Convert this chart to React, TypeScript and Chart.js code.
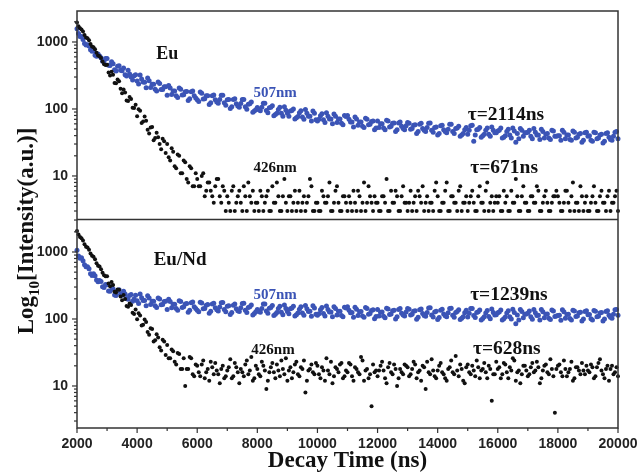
import { useEffect, useRef } from 'react';
import { Chart, registerables } from 'chart.js';

Chart.register(...registerables);

// Decay time (ns), first sampling grid
const TIME = [
  2000, 2100, 2200, 2300, 2400, 2500, 2600, 2700, 2800, 2900,
  3000, 3100, 3200, 3300, 3400, 3500, 3600, 3700, 3800, 3900,
  4000, 4100, 4200, 4300, 4400, 4500, 4600, 4700, 4800, 4900,
  5000, 5100, 5200, 5300, 5400, 5500, 5600, 5700, 5800, 5900,
  6000, 6100, 6200, 6300, 6400, 6500, 6600, 6700, 6800, 6900,
  7000, 7100, 7200, 7300, 7400, 7500, 7600, 7700, 7800, 7900,
  8000, 8100, 8200, 8300, 8400, 8500, 8600, 8700, 8800, 8900,
  9000, 9100, 9200, 9300, 9400, 9500, 9600, 9700, 9800, 9900,
  10000, 10100, 10200, 10300, 10400, 10500, 10600, 10700, 10800, 10900,
  11000, 11100, 11200, 11300, 11400, 11500, 11600, 11700, 11800, 11900,
  12000, 12100, 12200, 12300, 12400, 12500, 12600, 12700, 12800, 12900,
  13000, 13100, 13200, 13300, 13400, 13500, 13600, 13700, 13800, 13900,
  14000, 14100, 14200, 14300, 14400, 14500, 14600, 14700, 14800, 14900,
  15000, 15100, 15200, 15300, 15400, 15500, 15600, 15700, 15800, 15900,
  16000, 16100, 16200, 16300, 16400, 16500, 16600, 16700, 16800, 16900,
  17000, 17100, 17200, 17300, 17400, 17500, 17600, 17700, 17800, 17900,
  18000, 18100, 18200, 18300, 18400, 18500, 18600, 18700, 18800, 18900,
  19000, 19100, 19200, 19300, 19400, 19500, 19600, 19700, 19800, 19900,
  20000,
];

// Decay time (ns), second (interleaved) sampling grid
const TIME_B = [
  2050, 2150, 2250, 2350, 2450, 2550, 2650, 2750, 2850, 2950,
  3050, 3150, 3250, 3350, 3450, 3550, 3650, 3750, 3850, 3950,
  4050, 4150, 4250, 4350, 4450, 4550, 4650, 4750, 4850, 4950,
  5050, 5150, 5250, 5350, 5450, 5550, 5650, 5750, 5850, 5950,
  6050, 6150, 6250, 6350, 6450, 6550, 6650, 6750, 6850, 6950,
  7050, 7150, 7250, 7350, 7450, 7550, 7650, 7750, 7850, 7950,
  8050, 8150, 8250, 8350, 8450, 8550, 8650, 8750, 8850, 8950,
  9050, 9150, 9250, 9350, 9450, 9550, 9650, 9750, 9850, 9950,
  10050, 10150, 10250, 10350, 10450, 10550, 10650, 10750, 10850, 10950,
  11050, 11150, 11250, 11350, 11450, 11550, 11650, 11750, 11850, 11950,
  12050, 12150, 12250, 12350, 12450, 12550, 12650, 12750, 12850, 12950,
  13050, 13150, 13250, 13350, 13450, 13550, 13650, 13750, 13850, 13950,
  14050, 14150, 14250, 14350, 14450, 14550, 14650, 14750, 14850, 14950,
  15050, 15150, 15250, 15350, 15450, 15550, 15650, 15750, 15850, 15950,
  16050, 16150, 16250, 16350, 16450, 16550, 16650, 16750, 16850, 16950,
  17050, 17150, 17250, 17350, 17450, 17550, 17650, 17750, 17850, 17950,
  18050, 18150, 18250, 18350, 18450, 18550, 18650, 18750, 18850, 18950,
  19050, 19150, 19250, 19350, 19450, 19550, 19650, 19750, 19850, 19950,
];

// Eu, 507 nm (top panel, blue)
const EU_507 = [
  1570, 1210, 1091, 902, 872, 725, 635, 663, 580, 507,
  566, 447, 473, 370, 440, 371, 323, 379, 299, 312,
  262, 322, 252, 208, 265, 234, 197, 252, 196, 214,
  160, 205, 185, 158, 205, 162, 181, 134, 181, 157,
  137, 179, 141, 157, 117, 158, 137, 122, 160, 124,
  137, 102, 138, 120, 106, 139, 108, 118, 127, 93,
  105, 94, 122, 95, 104, 112, 83, 98, 86, 108,
  86, 93, 100, 74, 88, 76, 98, 78, 66, 86,
  66, 79, 69, 88, 71, 60, 78, 71, 61, 80,
  80, 64, 54, 71, 64, 55, 73, 58, 65, 49,
  66, 60, 52, 68, 54, 61, 46, 62, 55, 49,
  63, 50, 57, 43, 59, 51, 46, 61, 48, 53,
  41, 56, 49, 44, 59, 46, 51, 55, 41, 49,
  42, 56, 33, 49, 53, 40, 48, 42, 54, 44,
  47, 52, 38, 46, 41, 52, 32, 36, 48, 44,
  45, 39, 51, 41, 35, 46, 42, 37, 48, 39,
  40, 34, 45, 41, 35, 47, 37, 42, 32, 44,
  39, 34, 45, 36, 41, 31, 43, 38, 34, 45,
  36,
];
const EU_507_B = [
  1339, 1206, 950, 906, 769, 740, 611, 618, 517, 567,
  451, 508, 385, 433, 379, 409, 311, 332, 270, 324,
  236, 281, 250, 289, 210, 233, 185, 241, 196, 214,
  224, 164, 185, 149, 197, 163, 182, 142, 186, 146,
  129, 172, 142, 158, 124, 161, 127, 138, 160, 114,
  138, 108, 142, 111, 121, 139, 99, 120, 89, 97,
  98, 106, 122, 88, 106, 79, 86, 106, 78, 96,
  78, 95, 71, 77, 94, 70, 86, 78, 93, 69,
  70, 85, 63, 78, 71, 84, 63, 71, 58, 77,
  70, 64, 76, 57, 64, 53, 70, 59, 66, 52,
  53, 60, 49, 66, 55, 62, 49, 64, 51, 56,
  61, 51, 58, 46, 61, 48, 53, 62, 45, 54,
  43, 57, 46, 50, 59, 43, 52, 39, 43, 53,
  48, 57, 41, 50, 38, 42, 52, 39, 48, 44,
  48, 37, 40, 50, 37, 47, 43, 51, 39, 44,
  48, 36, 45, 41, 50, 37, 43, 35, 47, 39,
  40, 48, 36, 41, 34, 45, 38, 43, 34, 45,
  40, 33, 44, 37, 42, 33, 44, 35, 39, 46,
];

// Eu, 426 nm (top panel, black)
const EU_426 = [
  1950, 1600, 1430, 1170, 1060, 860, 780, 630, 575, 465,
  459, 315, 324, 242, 259, 172, 176, 132, 141, 103,
  78, 94, 65, 67, 43, 54, 37, 38, 25, 33,
  30, 17, 23, 13, 20, 11, 16, 8, 13, 7,
  9, 7, 11, 6, 8, 5, 7, 9, 4, 6,
  5, 3, 7, 4, 6, 3, 5, 8, 4, 3,
  4, 6, 3, 5, 3, 7, 4, 5, 3, 9,
  3, 5, 4, 3, 6, 4, 3, 5, 7, 3,
  4, 3, 5, 4, 8, 3, 6, 4, 3, 5,
  3, 4, 6, 3, 5, 4, 3, 7, 4, 5,
  4, 3, 5, 9, 3, 4, 6, 3, 5, 4,
  3, 6, 4, 3, 5, 7, 4, 3, 4, 6,
  5, 3, 4, 8, 3, 5, 4, 6, 3, 4,
  3, 5, 4, 3, 7, 4, 6, 3, 5, 4,
  4, 3, 6, 5, 3, 4, 9, 3, 5, 4,
  3, 5, 4, 7, 3, 4, 6, 3, 4, 5,
  5, 3, 4, 6, 3, 8, 4, 3, 5, 4,
  3, 4, 7, 3, 5, 4, 3, 6, 4, 5,
  3,
];
const EU_426_B = [
  1720, 1530, 1270, 1140, 930, 835, 690, 615, 510, 455,
  350, 358, 244, 276, 200, 196, 134, 151, 104, 116,
  99, 62, 77, 49, 53, 34, 44, 30, 36, 22,
  19, 26, 14, 21, 11, 17, 9, 14, 7, 11,
  7, 10, 5, 8, 6, 4, 9, 5, 7, 3,
  4, 6, 3, 5, 4, 7, 3, 5, 6, 4,
  3, 5, 4, 6, 3, 4, 8, 3, 5, 4,
  5, 3, 6, 4, 3, 5, 4, 9, 3, 4,
  3, 6, 4, 5, 3, 4, 7, 3, 5, 4,
  5, 3, 4, 6, 3, 8, 4, 5, 3, 4,
  3, 5, 4, 3, 6, 4, 5, 3, 7, 4,
  4, 3, 5, 6, 4, 3, 5, 4, 3, 8,
  3, 4, 6, 3, 5, 4, 3, 7, 4, 5,
  4, 6, 3, 5, 4, 3, 8, 4, 3, 5,
  5, 3, 4, 3, 6, 4, 5, 3, 7, 4,
  3, 5, 4, 6, 3, 5, 4, 3, 5, 6,
  4, 3, 6, 4, 5, 3, 4, 7, 3, 5,
  3, 5, 4, 3, 6, 4, 5, 3, 4, 6,
];

// Eu/Nd, 507 nm (bottom panel, blue)
const ND_507 = [
  1060, 808, 742, 601, 562, 447, 441, 360, 364, 296,
  325, 260, 281, 224, 274, 227, 237, 197, 233, 198,
  187, 236, 188, 158, 205, 184, 158, 206, 163, 182,
  139, 183, 166, 143, 187, 149, 168, 126, 174, 152,
  135, 178, 142, 161, 122, 167, 147, 132, 175, 139,
  155, 117, 161, 142, 129, 171, 135, 149, 162, 121,
  139, 126, 167, 132, 145, 159, 118, 143, 126, 162,
  129, 142, 155, 116, 140, 123, 159, 129, 110, 146,
  114, 137, 121, 156, 127, 108, 143, 131, 113, 150,
  152, 124, 106, 140, 128, 111, 148, 118, 134, 101,
  138, 126, 110, 145, 117, 133, 100, 139, 122, 111,
  144, 115, 131, 99, 137, 121, 110, 146, 115, 127,
  98, 135, 119, 108, 144, 114, 125, 137, 103, 124,
  107, 143, 113, 125, 136, 102, 123, 109, 141, 115,
  124, 136, 101, 123, 108, 140, 85, 97, 129, 118,
  122, 108, 139, 113, 97, 128, 118, 103, 136, 109,
  113, 96, 128, 117, 102, 135, 109, 124, 93, 129,
  116, 101, 134, 108, 123, 93, 129, 114, 103, 137,
  114,
];
const ND_507_B = [
  874, 819, 645, 601, 473, 472, 381, 375, 304, 326,
  262, 302, 229, 265, 235, 260, 202, 224, 184, 226,
  170, 208, 188, 222, 164, 184, 149, 198, 164, 184,
  197, 147, 166, 135, 182, 152, 171, 135, 179, 143,
  128, 173, 144, 164, 130, 172, 137, 151, 177, 128,
  158, 125, 167, 133, 147, 172, 125, 152, 115, 128,
  130, 144, 168, 122, 149, 113, 125, 155, 116, 144,
  120, 146, 111, 123, 152, 114, 142, 131, 157, 118,
  120, 148, 111, 138, 127, 152, 115, 131, 108, 146,
  135, 125, 150, 113, 129, 106, 144, 121, 137, 109,
  111, 127, 104, 141, 119, 135, 108, 143, 115, 127,
  140, 118, 133, 106, 141, 113, 125, 147, 107, 131,
  105, 140, 112, 124, 145, 106, 129, 98, 108, 135,
  122, 144, 105, 128, 97, 108, 134, 101, 125, 116,
  127, 97, 107, 133, 100, 125, 115, 138, 104, 119,
  132, 99, 124, 114, 138, 104, 119, 98, 132, 111,
  114, 137, 103, 118, 97, 132, 111, 126, 100, 133,
  117, 97, 131, 110, 125, 100, 133, 106, 118, 138,
];

// Eu/Nd, 426 nm (bottom panel, black)
const ND_426 = [
  2050, 1680, 1480, 1200, 1080, 880, 780, 625, 555, 450,
  435, 309, 321, 249, 274, 191, 198, 152, 162, 119,
  99, 113, 82, 90, 58, 71, 48, 53, 34, 46,
  41, 26, 33, 21, 30, 18, 10, 18, 26, 14,
  20, 14, 24, 16, 12, 19, 22, 15, 18, 13,
  17, 25, 14, 19, 11, 16, 21, 15, 27, 13,
  18, 14, 20, 9, 16, 22, 13, 17, 24, 15,
  12, 19, 16, 23, 14, 18, 8, 17, 21, 15,
  20, 13, 17, 26, 15, 11, 19, 16, 22, 14,
  16, 21, 12, 18, 15, 24, 17, 13, 5, 16,
  14, 20, 17, 11, 22, 15, 18, 13, 16, 21,
  19, 15, 23, 13, 17, 20, 9, 16, 25, 14,
  17, 22, 15, 12, 19, 16, 28, 14, 18, 11,
  21, 15, 17, 24, 13, 18, 16, 20, 6, 15,
  18, 13, 22, 16, 19, 26, 12, 17, 15, 20,
  14, 19, 16, 23, 11, 17, 21, 15, 18, 4,
  20, 16, 24, 14, 18, 12, 19, 17, 22, 15,
  17, 21, 13, 19, 25, 15, 18, 12, 20, 16,
  14,
];
const ND_426_B = [
  1820, 1600, 1310, 1170, 950, 850, 680, 605, 490, 435,
  339, 358, 254, 275, 216, 228, 156, 171, 124, 138,
  122, 80, 98, 64, 73, 46, 59, 38, 49, 29,
  26, 35, 23, 31, 18, 26, 18, 27, 15, 21,
  16, 21, 13, 18, 23, 15, 17, 11, 20, 14,
  19, 13, 22, 16, 18, 14, 24, 17, 12, 20,
  15, 23, 17, 12, 19, 16, 21, 14, 18, 26,
  17, 13, 21, 15, 19, 24, 12, 18, 16, 22,
  15, 19, 12, 17, 23, 14, 18, 21, 13, 17,
  22, 14, 19, 16, 27, 12, 18, 15, 21, 17,
  17, 23, 13, 19, 16, 21, 10, 18, 15, 20,
  14, 18, 21, 16, 12, 19, 23, 15, 17, 13,
  20, 16, 13, 18, 24, 15, 17, 21, 12, 19,
  16, 20, 14, 19, 17, 22, 13, 18, 15, 23,
  19, 15, 21, 13, 17, 24, 16, 11, 20, 17,
  15, 22, 17, 19, 13, 20, 16, 25, 14, 18,
  21, 14, 18, 16, 23, 13, 19, 15, 17, 20,
  16, 19, 14, 22, 17, 13, 20, 18, 15, 19,
];

const X_TICKS = [2000, 4000, 6000, 8000, 10000, 12000, 14000, 16000, 18000, 20000];
const Y_TICKS = [10, 100, 1000];

const BLUE = '#3b54b6';
const BLACK = '#111111';
const SERIF = "'Liberation Serif', 'Times New Roman', serif";
const SANS = "'Liberation Sans', Arial, sans-serif";

// Text annotations, placed in data coordinates
const ANNOTATIONS = [
  { text: 'Eu', t: 5000, v: 662, axis: 'yTop', color: BLACK, size: 18 },
  { text: '507nm', t: 8590, v: 173, axis: 'yTop', color: BLUE, size: 15 },
  { text: '426nm', t: 8590, v: 13.2, axis: 'yTop', color: BLACK, size: 15 },
  { text: 'τ=2114ns', t: 16270, v: 81, axis: 'yTop', color: BLACK, size: 19.5 },
  { text: 'τ=671ns', t: 16210, v: 13.2, axis: 'yTop', color: BLACK, size: 19.5 },
  { text: 'Eu/Nd', t: 5430, v: 760, axis: 'yBot', color: BLACK, size: 19 },
  { text: '507nm', t: 8590, v: 228, axis: 'yBot', color: BLUE, size: 15 },
  { text: '426nm', t: 8520, v: 34.5, axis: 'yBot', color: BLACK, size: 15 },
  { text: 'τ=1239ns', t: 16370, v: 228, axis: 'yBot', color: BLACK, size: 19.5 },
  { text: 'τ=628ns', t: 16300, v: 35.6, axis: 'yBot', color: BLACK, size: 19.5 },
];

const framePlugin = {
  id: 'frame',
  afterDraw(chart: any) {
    const { ctx, chartArea: a, scales } = chart;
    const xs = scales.x;
    const yt = scales.yTop;
    const yb = scales.yBot;
    ctx.save();
    ctx.strokeStyle = '#333333';
    ctx.lineWidth = 1.5;
    const line = (x1: number, y1: number, x2: number, y2: number) => {
      ctx.beginPath();
      ctx.moveTo(x1, y1);
      ctx.lineTo(x2, y2);
      ctx.stroke();
    };
    ctx.strokeRect(a.left, a.top, a.right - a.left, a.bottom - a.top);
    line(a.left, yt.bottom, a.right, yt.bottom);

    // x ticks (major + minor halfway)
    ctx.lineWidth = 1.2;
    X_TICKS.forEach((v, i) => {
      const px = xs.getPixelForValue(v);
      line(px, a.bottom, px, a.bottom + 5);
      if (i < X_TICKS.length - 1) {
        const mx = xs.getPixelForValue((v + X_TICKS[i + 1]) / 2);
        line(mx, a.bottom, mx, a.bottom + 3);
      }
    });

    // y ticks (log major + minor)
    [yt, yb].forEach((s: any) => {
      [1, 10, 100, 1000].forEach((d) => {
        for (let m = 1; m <= 9; m++) {
          const v = m * d;
          if (v < s.min || v > s.max) continue;
          const py = s.getPixelForValue(v);
          line(a.left - (m === 1 ? 5 : 3), py, a.left, py);
        }
      });
    });

    // annotations
    ctx.textAlign = 'center';
    ctx.textBaseline = 'middle';
    ANNOTATIONS.forEach((n) => {
      const s = scales[n.axis];
      ctx.font = `bold ${n.size}px ${SERIF}`;
      ctx.fillStyle = n.color;
      ctx.fillText(n.text, xs.getPixelForValue(n.t), s.getPixelForValue(n.v));
    });

    // x title
    ctx.fillStyle = '#111111';
    ctx.font = `bold 23px ${SERIF}`;
    ctx.textBaseline = 'alphabetic';
    ctx.fillText('Decay Time (ns)', (a.left + a.right) / 2, 467);

    // y title with subscript
    ctx.save();
    ctx.translate(33, 231);
    ctx.rotate(-Math.PI / 2);
    ctx.textAlign = 'left';
    const big = `bold 23px ${SERIF}`;
    const small = `bold 15px ${SERIF}`;
    ctx.font = big;
    const w1 = ctx.measureText('Log').width;
    const w3 = ctx.measureText('[Intensity(a.u.)]').width;
    ctx.font = small;
    const w2 = ctx.measureText('10').width;
    let sx = -(w1 + w2 + w3) / 2;
    ctx.font = big;
    ctx.fillText('Log', sx, 0);
    sx += w1;
    ctx.font = small;
    ctx.fillText('10', sx, 6);
    sx += w2;
    ctx.font = big;
    ctx.fillText('[Intensity(a.u.)]', sx, 0);
    ctx.restore();

    ctx.restore();
  },
};

const yAxis = (min: number, max: number) => ({
  type: 'logarithmic' as const,
  position: 'left' as const,
  stack: 'panels',
  stackWeight: 1,
  min,
  max,
  grid: { display: false, drawTicks: false, tickLength: 0 },
  border: { display: false },
  ticks: {
    padding: 9,
    color: '#222222',
    font: { family: SANS, size: 14, weight: 'bold' as const },
    callback: (v: any) => String(v),
  },
  afterBuildTicks: (s: any) => {
    s.ticks = Y_TICKS.map((value) => ({ value }));
  },
  afterFit: (s: any) => {
    s.width = 77;
    s.paddingTop = 0;
    s.paddingBottom = 0;
  },
});

export default function App() {
  const ref = useRef<HTMLCanvasElement | null>(null);

  useEffect(() => {
    if (!ref.current) return;
    const pts = (ts: number[], ys: number[]) => ts.map((t, i) => ({ x: t, y: ys[i] }));
    const series = (a: number[], b: number[]) => [...pts(TIME, a), ...pts(TIME_B, b)];
    const chart = new Chart(ref.current, {
      type: 'scatter',
      data: {
        datasets: [
          {
            label: 'Eu 426nm',
            data: series(EU_426, EU_426_B),
            yAxisID: 'yTop',
            backgroundColor: BLACK,
            borderWidth: 0,
            pointRadius: 2,
            clip: false,
          },
          {
            label: 'Eu/Nd 426nm',
            data: series(ND_426, ND_426_B),
            yAxisID: 'yBot',
            backgroundColor: BLACK,
            borderWidth: 0,
            pointRadius: 2,
            clip: false,
          },
          {
            label: 'Eu 507nm',
            data: series(EU_507, EU_507_B),
            yAxisID: 'yTop',
            backgroundColor: BLUE,
            borderWidth: 0,
            pointRadius: 2.5,
            clip: false,
          },
          {
            label: 'Eu/Nd 507nm',
            data: series(ND_507, ND_507_B),
            yAxisID: 'yBot',
            backgroundColor: BLUE,
            borderWidth: 0,
            pointRadius: 2.5,
            clip: false,
          },
        ],
      },
      options: {
        animation: false,
        responsive: false,
        devicePixelRatio: 1,
        layout: { padding: { top: 11, right: 20, left: 0, bottom: 0 } },
        plugins: { legend: { display: false }, tooltip: { enabled: false } },
        scales: {
          x: {
            type: 'linear',
            position: 'bottom',
            min: 2000,
            max: 20000,
            grid: { display: false, drawTicks: false, tickLength: 0 },
            border: { display: false },
            ticks: {
              padding: 8,
              color: '#222222',
              maxRotation: 0,
              autoSkip: false,
              font: { family: SANS, size: 14, weight: 'bold' },
              callback: (v: any) => String(v),
            },
            afterBuildTicks: (s: any) => {
              s.ticks = X_TICKS.map((value) => ({ value }));
            },
            afterFit: (s: any) => {
              s.height = 47;
              s.paddingLeft = 0;
              s.paddingRight = 0;
            },
          },
          yBot: yAxis(2.36, 3055),
          yTop: yAxis(2.24, 2901),
        },
      },
      plugins: [framePlugin],
    });
    return () => chart.destroy();
  }, []);

  return (
    <div style={{ position: 'fixed', left: 0, top: 0, width: 638, height: 475, background: '#ffffff' }}>
      <canvas ref={ref} width={638} height={475} />
    </div>
  );
}
